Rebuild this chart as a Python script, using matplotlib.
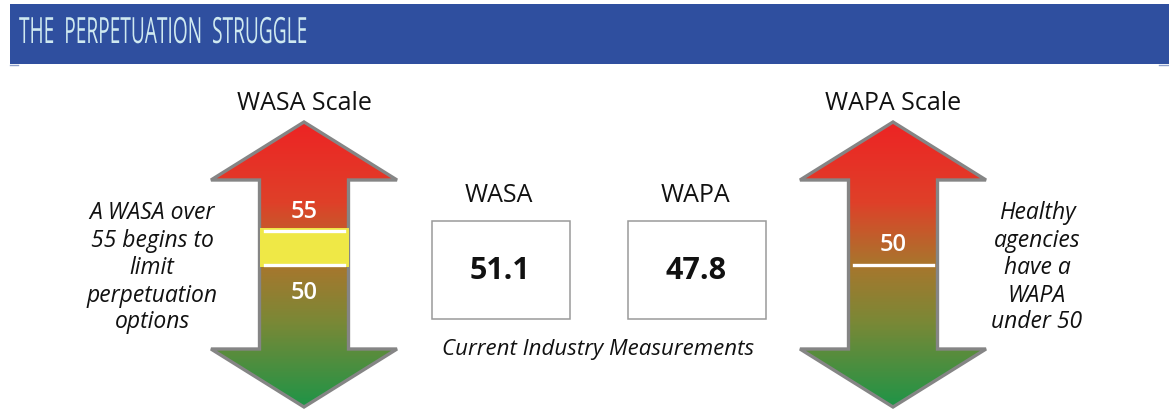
import numpy as np
import matplotlib.pyplot as plt
from matplotlib.patches import Polygon, Rectangle
from matplotlib.colors import LinearSegmentedColormap
from matplotlib.patheffects import AbstractPathEffect
from matplotlib.transforms import Affine2D

# values
title = "THE  PERPETUATION  STRUGGLE"
scale_names = ["WASA", "WAPA"]
current_values = [51.1, 47.8]
wasa_marks = [55, 50]     # yellow band between these
wapa_marks = [50]
left_note = ["A WASA over", "55 begins to", "limit", "perpetuation", "options"]
right_note = ["Healthy", "agencies", "have a", "WAPA", "under 50"]
footer = "Current Industry Measurements"

plt.rcParams['font.family'] = ['Open Sans', 'DejaVu Sans']


# squeeze text sideways, header font in the picture is a narrow one
class Squeeze(AbstractPathEffect):
    def __init__(self, sx):
        super().__init__()
        self.sx = sx

    def draw_path(self, renderer, gc, tpath, affine, rgbFace=None):
        renderer.draw_path(gc, tpath, Affine2D().scale(self.sx, 1) + affine, rgbFace)


fig = plt.figure(figsize=(11.69, 4.10), dpi=100)
ax = fig.add_axes([0, 0, 1, 1])
ax.set_xlim(0, 1169)
ax.set_ylim(410, 0)
ax.axis("off")

# header bar
ax.add_patch(Rectangle((10, 5), 1159, 60, color="#2f4f9f", lw=0))
ax.plot([10, 18], [65.5, 65.5], color="#8e9fc9", lw=1)
ax.plot([1159, 1168], [65.5, 65.5], color="#8e9fc9", lw=1)
ax.text(19, 35, title, color="#cfe9f0", fontsize=26, va="center", ha="left",
        path_effects=[Squeeze(0.53)])

# arrow shape (pixel coords)
tip_top, wing_y, shaft_bot, tip_bot = 123, 181, 350, 408
hw, sw = 93, 44.5

def arrow_pts(cx):
    return [(cx, tip_top), (cx + hw, wing_y), (cx + sw, wing_y), (cx + sw, shaft_bot),
            (cx + hw, shaft_bot), (cx, tip_bot), (cx - hw, shaft_bot), (cx - sw, shaft_bot),
            (cx - sw, wing_y), (cx - hw, wing_y)]

grad = LinearSegmentedColormap.from_list(
    "rg", [(0, "#ed2424"), (0.28, "#df4029"), (0.5, "#a8762d"), (0.7, "#7b8836"),
           (1, "#1f9447")])
g = grad(np.linspace(0, 1, 300))[:, None, :]

# value -> y position on the arrows (50 sits at y=266, 55 at y=232)
def val_y(v):
    return 266 - (v - 50) * 6.8

centers = [304, 893]
for cx, name in zip(centers, scale_names):
    poly = Polygon(arrow_pts(cx), closed=True, fc="none", ec="#858585", lw=2.4,
                   joinstyle="miter", zorder=3)
    ax.add_patch(poly)
    im = ax.imshow(g, extent=(cx - hw, cx + hw, tip_bot, tip_top), origin="upper",
                   aspect="auto", zorder=2)
    im.set_clip_path(poly)
    ax.text(cx, 104, name + " Scale", fontsize=18, ha="center", va="center", color="#111111")

# WASA band
cx = centers[0]
y_hi, y_lo = val_y(max(wasa_marks)), val_y(min(wasa_marks))
ax.add_patch(Rectangle((cx - sw, y_hi - 3), 2 * sw, y_lo - y_hi + 5, color="#efe846", lw=0, zorder=4))
for v in wasa_marks:
    ax.plot([cx - 39, cx + 40], [val_y(v), val_y(v)], color="white", lw=2.4, zorder=5)
ax.text(cx, y_hi - 20, str(wasa_marks[0]), color="white", fontsize=17, fontweight="semibold",
        ha="center", va="center", zorder=5)
ax.text(cx, y_lo + 27, str(wasa_marks[1]), color="white", fontsize=17, fontweight="semibold",
        ha="center", va="center", zorder=5)

# WAPA line
cx = centers[1]
for v in wapa_marks:
    ax.plot([cx - 39, cx + 40], [val_y(v), val_y(v)], color="white", lw=2.4, zorder=5)
    ax.text(cx, val_y(v) - 21, str(v), color="white", fontsize=17, fontweight="semibold",
            ha="center", va="center", zorder=5)

# side notes
line_y = [213, 241, 268, 296, 322]
for t, y in zip(left_note, line_y):
    ax.text(152, y, t, fontsize=16.5, style="italic", ha="center", va="center", color="#111111")
for t, y in zip(right_note, line_y):
    ax.text(1037, y, t, fontsize=16.5, style="italic", ha="center", va="center", color="#111111")

# current measurement boxes
box_x = [432, 628]
for bx, name, val in zip(box_x, scale_names, current_values):
    ax.add_patch(Rectangle((bx, 222), 138, 98, fc="white", ec="#9a9a9a", lw=1.1))
    ax.text(bx + 67, 196, name, fontsize=18, ha="center", va="center", color="#111111")
    ax.text(bx + 68, 271, f"{val:.1f}", fontsize=22, fontweight="bold", ha="center",
            va="center", color="#111111")
ax.text(598, 350, footer, fontsize=16, style="italic", ha="center", va="center", color="#111111")

fig.savefig("out.png", dpi=100)
